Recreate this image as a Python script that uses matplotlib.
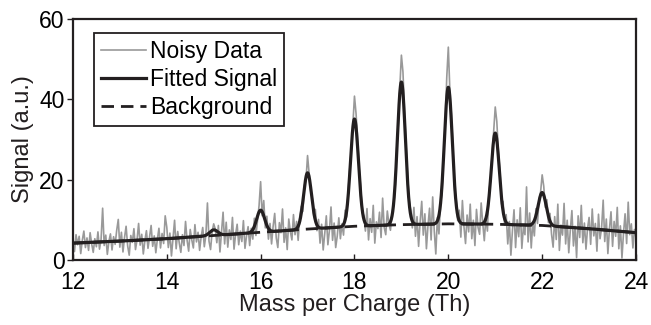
import numpy as np
import matplotlib
matplotlib.use("Agg")
import matplotlib.pyplot as plt

plt.rcParams['font.family'] = ['Liberation Sans', 'DejaVu Sans']

# noisy data, 30 samples per unit of m/z
noisy_12 = [4.5, 2.1, 6.3, 3.8, 5.9, 1.6, 4.9, 7.2, 3.1, 5.5, 2.4, 6.8, 4.0, 1.9, 5.3,
            3.3, 7.0, 2.7, 5.1, 12.9, 3.6, 6.2, 1.4, 4.6, 6.5, 2.5, 5.8, 3.9, 7.4, 10.1]
noisy_13 = [3.2, 6.9, 2.0, 5.6, 8.4, 3.5, 1.2, 6.1, 4.4, 7.8, 2.6, 5.0, 9.1, 3.7, 6.4,
            1.5, 4.8, 7.3, 2.9, 5.7, 8.6, 3.4, 6.0, 1.8, 5.2, 7.9, 3.0, 6.6, 4.1, 11.0]
noisy_14 = [8.2, 3.1, 6.7, 1.0, 5.4, 9.9, 2.8, 7.1, 4.2, 1.9, 6.3, 3.6, 9.6, 4.9, 2.2,
            7.6, 5.0, 3.0, 8.8, 4.5, 6.9, 2.4, 5.8, 8.1, 3.3, 6.2, 14.2, 4.7, 2.6, 7.0]
noisy_15 = [9.0, 7.7, 4.3, 8.6, 2.0, 6.8, 11.9, 4.0, 9.4, 3.2, 7.5, 5.1, 10.6, 2.7, 6.4,
            8.9, 3.8, 7.2, 4.6, 9.8, 2.9, 6.0, 8.3, 3.6, 7.9, 5.2, 10.4, 6.1, 9.7, 13.5]
noisy_16 = [19.5, 11.0, 14.8, 8.0, 10.9, 5.2, 9.1, 4.0, 8.4, 11.6, 5.5, 3.1, 9.3, 6.8, 12.7,
            4.4, 8.0, 2.6, 10.2, 7.1, 5.0, 11.3, 6.3, 9.6, 4.9, 10.8, 13.4, 12.1, 18.6, 19.8]
noisy_17 = [26.0, 21.5, 17.2, 15.4, 10.8, 12.6, 7.3, 10.1, 4.2, 8.9, 2.5, 6.6, 11.0, 3.8, 7.4,
            13.2, 4.9, 9.2, 3.1, 6.0, 10.5, 5.3, 9.0, 6.2, 12.4, 10.7, 17.0, 22.8, 27.5, 33.9]
noisy_18 = [40.8, 36.5, 30.2, 22.8, 18.1, 12.0, 10.9, 7.2, 12.8, 5.0, 10.3, 6.9, 13.6, 4.2, 9.5,
            7.8, 11.9, 5.6, 15.4, 8.1, 6.3, 12.2, 9.0, 7.4, 11.8, 13.5, 17.9, 27.8, 33.5, 43.0]
noisy_19 = [51.0, 46.8, 37.0, 28.5, 20.7, 14.8, 12.3, 8.0, 13.1, 5.9, 10.8, 3.4, 9.7, 14.6, 6.2,
            11.5, 2.8, 8.6, 12.9, 5.0, 15.7, 7.3, 1.5, 10.6, 6.5, 14.0, 16.8, 26.4, 33.7, 45.5]
noisy_20 = [53.0, 42.0, 36.2, 27.4, 17.5, 15.1, 9.8, 12.4, 5.7, 14.8, 8.3, 4.1, 11.2, 7.0, 13.9,
            5.3, 9.9, 3.6, 12.6, 8.1, 6.4, 14.2, 9.2, 4.8, 10.5, 7.2, 17.4, 19.6, 26.1, 32.0]
noisy_21 = [38.1, 34.5, 27.0, 22.1, 13.9, 14.6, 8.7, 11.3, 4.0, 9.6, 1.2, 7.4, 12.5, 3.1, 10.0,
            5.8, 13.0, 2.9, 8.2, 6.3, 18.2, 4.5, 11.7, 3.0, 9.4, 6.0, 12.8, 9.1, 14.9, 17.0]
noisy_22 = [21.2, 18.4, 13.1, 15.0, 9.3, 11.6, 6.4, 3.2, 10.8, 5.1, 13.9, 2.4, 8.7, 6.2, 14.1,
            4.0, 9.9, 1.8, 7.5, 12.3, 3.5, 8.4, 0.6, 11.0, 5.6, 13.6, 4.3, 9.2, 2.7, 7.9]
noisy_23 = [10.6, 3.9, 12.7, 6.0, 9.1, 2.2, 11.4, 5.3, 8.0, 14.9, 4.6, 10.2, 1.6, 7.7, 12.0,
            3.4, 9.6, 5.9, 13.1, 2.8, 8.5, 0.5, 6.7, 11.5, 4.1, 14.4, 6.3, 9.0, 3.0, 7.6, 5.5]

# background knots
bg_mz = [12, 13, 14, 15, 16, 17, 18, 19, 20, 21, 22, 23, 24]
bg_level = [4.2, 4.7, 5.3, 6.1, 6.9, 7.7, 8.4, 8.8, 9.0, 8.9, 8.6, 7.8, 6.8]

# fitted peaks (height above background)
peak_mz = [15, 16, 17, 18, 19, 20, 21, 22]
peak_height = [1.4, 5.5, 14.0, 26.7, 35.5, 34.0, 22.7, 8.2]
peak_sigma = 0.085

segments = [noisy_12, noisy_13, noisy_14, noisy_15, noisy_16, noisy_17,
            noisy_18, noisy_19, noisy_20, noisy_21, noisy_22, noisy_23]
x_noisy = np.concatenate([12 + k + np.arange(len(s)) / 30.0 for k, s in enumerate(segments)])
y_noisy = np.concatenate(segments)

x_fit = np.linspace(12, 24, 2401)
bg_fit = np.interp(x_fit, bg_mz, bg_level)
y_fit = bg_fit.copy()
for c, h in zip(peak_mz, peak_height):
    y_fit += h * np.exp(-(x_fit - c) ** 2 / (2 * peak_sigma ** 2))

dark = '#231f20'

fig = plt.figure(figsize=(6.51, 3.25), dpi=100)
ax = fig.add_axes([0.112, 0.2, 0.865, 0.7415])

ax.plot(x_noisy, y_noisy, color='#999999', lw=1.2, label='Noisy Data')
ax.plot(bg_mz, bg_level, color=dark, lw=2.0, ls=(0, (4.5, 2.5)), label='Background')
ax.plot(x_fit, y_fit, color=dark, lw=2.3, label='Fitted Signal')

ax.set_xlim(12, 24)
ax.set_ylim(0, 60)
ax.set_xticks([12, 14, 16, 18, 20, 22, 24])
ax.set_yticks([0, 20, 40, 60])
ax.tick_params(axis='x', direction='in', length=4, width=1, labelsize=16.5, pad=8, color=dark)
ax.tick_params(axis='y', direction='out', length=4, width=1, labelsize=16.5, pad=2, color=dark)
for s in ax.spines.values():
    s.set_linewidth(1.6)
    s.set_color(dark)

ax.set_xlabel('Mass per Charge (Th)', fontsize=17, color=dark, labelpad=0)
ax.set_ylabel('Signal (a.u.)', fontsize=17, color=dark, labelpad=4)

h, l = ax.get_legend_handles_labels()
order = [0, 2, 1]
leg = ax.legend([h[i] for i in order], [l[i] for i in order],
                loc='upper left', bbox_to_anchor=(0.037, 0.942), borderaxespad=0,
                fontsize=16.5, fancybox=False, framealpha=1, edgecolor=dark,
                handlelength=2.0, handletextpad=0.15, labelspacing=0.22,
                borderpad=0.3)
leg.get_frame().set_linewidth(1.3)

fig.savefig('out.png', dpi=100)
